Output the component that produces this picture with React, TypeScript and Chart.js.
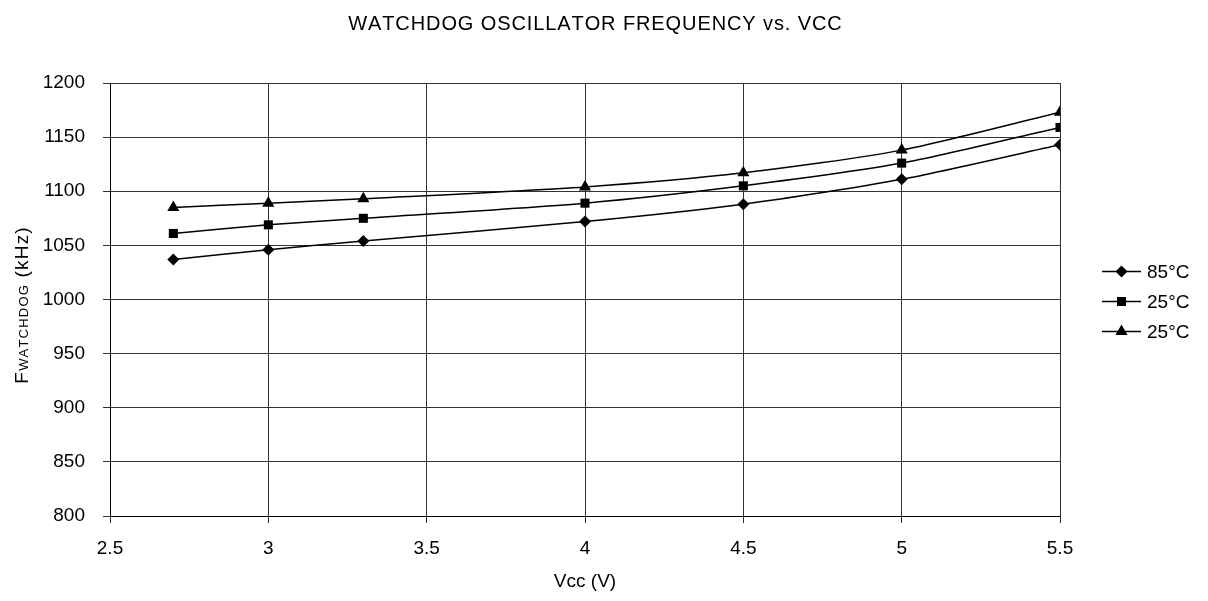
import React, { useEffect, useRef } from 'react';
import { Chart, registerables } from 'chart.js';

Chart.register(...registerables);

const vcc = [2.7, 3, 3.3, 4, 4.5, 5, 5.5];
const f85 = [1037, 1046, 1054, 1072, 1088, 1111, 1143];
const f25a = [1061, 1069, 1075, 1089, 1105, 1126, 1159];
const f25b = [1085, 1089, 1093, 1104, 1117, 1138, 1173];
const seriesLabels = ['85°C', '25°C', '25°C'];
const seriesMarkers = ['rectRot', 'rect', 'triangle'];
const chartTitle = 'WATCHDOG OSCILLATOR FREQUENCY vs. VCC';
const xTitle = 'Vcc (V)';
const yTitleMain = 'F';
const yTitleSub = 'WATCHDOG';
const yTitleUnit = ' (kHz)';

const FONT = "'Liberation Sans', Arial, sans-serif";

function drawMarker(ctx: CanvasRenderingContext2D, kind: string, x: number, y: number) {
  ctx.beginPath();
  if (kind === 'rectRot') {
    const r = 6;
    ctx.moveTo(x, y - r);
    ctx.lineTo(x + r, y);
    ctx.lineTo(x, y + r);
    ctx.lineTo(x - r, y);
  } else if (kind === 'rect') {
    const s = 4.5;
    ctx.rect(x - s, y - s, 2 * s, 2 * s);
  } else {
    const r = 7;
    ctx.moveTo(x, y - r);
    ctx.lineTo(x + r * 0.866, y + r * 0.5);
    ctx.lineTo(x - r * 0.866, y + r * 0.5);
  }
  ctx.closePath();
  ctx.fill();
}

function fillSpaced(ctx: CanvasRenderingContext2D, text: string, x: number, y: number, spacing: number) {
  let cx = x;
  for (const ch of text) {
    ctx.fillText(ch, cx, y);
    cx += ctx.measureText(ch).width + spacing;
  }
  return cx - x - spacing;
}

function spacedWidth(ctx: CanvasRenderingContext2D, text: string, spacing: number) {
  let w = 0;
  for (const ch of text) w += ctx.measureText(ch).width + spacing;
  return w - spacing;
}

const decorPlugin = {
  id: 'decor',
  afterDraw(chart: any) {
    const ctx: CanvasRenderingContext2D = chart.ctx;
    const area = chart.chartArea;
    ctx.save();
    ctx.fillStyle = '#000';
    ctx.strokeStyle = '#000';

    // title
    ctx.font = `20px ${FONT}`;
    ctx.textAlign = 'left';
    ctx.textBaseline = 'middle';
    const tSpacing = 0.9;
    const tw = spacedWidth(ctx, chartTitle, tSpacing);
    fillSpaced(ctx, chartTitle, 587 - tw / 2, 16, tSpacing);

    // y-axis title with subscript
    const cy = (area.top + area.bottom) / 2 + 6;
    ctx.save();
    ctx.translate(13, cy);
    ctx.rotate(-Math.PI / 2);
    ctx.textAlign = 'left';
    ctx.textBaseline = 'alphabetic';
    const big = `19px ${FONT}`;
    const small = `13px ${FONT}`;
    const sp = 1.2;
    ctx.font = big;
    const w1 = spacedWidth(ctx, yTitleMain, sp) + sp;
    const w3 = spacedWidth(ctx, yTitleUnit, sp);
    ctx.font = small;
    const w2 = spacedWidth(ctx, yTitleSub, sp) + sp;
    let x0 = -(w1 + w2 + w3) / 2;
    const base = 7;
    ctx.font = big;
    fillSpaced(ctx, yTitleMain, x0, base, sp);
    x0 += w1;
    ctx.font = small;
    fillSpaced(ctx, yTitleSub, x0, base, sp);
    x0 += w2;
    ctx.font = big;
    fillSpaced(ctx, yTitleUnit, x0, base, sp);
    ctx.restore();

    // legend
    ctx.font = `19px ${FONT}`;
    ctx.textAlign = 'left';
    ctx.textBaseline = 'middle';
    const lx = 1094;
    const gap = 30;
    const y0 = (area.top + area.bottom) / 2 + 2 - gap;
    chart.data.datasets.forEach((ds: any, i: number) => {
      const y = y0 + i * gap;
      ctx.lineWidth = 1.5;
      ctx.beginPath();
      ctx.moveTo(lx, y);
      ctx.lineTo(lx + 39, y);
      ctx.stroke();
      drawMarker(ctx, seriesMarkers[i], lx + 19.5, y);
      ctx.fillText(ds.label, lx + 45, y + 1);
    });
    ctx.restore();
  },
};

export default function App() {
  const ref = useRef<HTMLCanvasElement | null>(null);
  useEffect(() => {
    if (!ref.current) return;
    const mk = (label: string, vals: number[], style: string) => ({
      label,
      data: vcc.map((x, i) => ({ x, y: vals[i] })),
      borderColor: '#000',
      backgroundColor: '#000',
      borderWidth: 1.5,
      pointStyle: style,
      pointRadius: style === 'rect' ? 6.4 : style === 'triangle' ? 7 : 6,
      pointBorderWidth: 0,
      tension: 0.25,
      fill: false,
    });
    const chart = new Chart(ref.current, {
      type: 'line',
      data: {
        datasets: [
          mk(seriesLabels[0], f85, seriesMarkers[0]),
          mk(seriesLabels[1], f25a, seriesMarkers[1]),
          mk(seriesLabels[2], f25b, seriesMarkers[2]),
        ],
      },
      plugins: [decorPlugin],
      options: {
        animation: false,
        responsive: true,
        maintainAspectRatio: false,
        layout: { padding: { top: 75, right: 140, left: 0, bottom: 0 } },
        plugins: {
          legend: { display: false },
          title: { display: false },
          tooltip: { enabled: false },
        },
        scales: {
          x: {
            type: 'linear',
            min: 2.5,
            max: 5.5,
            ticks: {
              stepSize: 0.5,
              color: '#000',
              font: { family: FONT, size: 19 },
              padding: 14,
              maxRotation: 0,
              callback: (v: any) => String(v),
            },
            grid: { color: '#333', lineWidth: 1, tickLength: 7 },
            border: { color: '#000', width: 1 },
            title: {
              display: true,
              text: xTitle,
              color: '#000',
              font: { family: FONT, size: 19 },
              padding: { top: 0, bottom: 0 },
            },
            afterFit: (s: any) => { s.height = 77; },
          },
          y: {
            min: 800,
            max: 1200,
            ticks: {
              stepSize: 50,
              color: '#000',
              font: { family: FONT, size: 19 },
              padding: 18,
              callback: (v: any) => String(v),
            },
            grid: { color: '#333', lineWidth: 1, tickLength: 7 },
            border: { color: '#000', width: 1 },
            afterFit: (s: any) => { s.width = 102; },
          },
        },
      },
    });
    return () => chart.destroy();
  }, []);
  return (
    <div style={{ position: 'relative', height: 585 }}>
      <canvas ref={ref} />
    </div>
  );
}
